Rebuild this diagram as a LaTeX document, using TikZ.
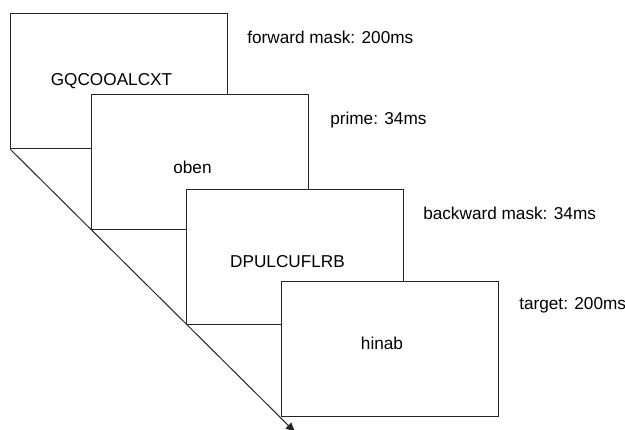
\documentclass[tikz,border=0pt]{standalone}
\usepackage{fontspec}
\setmainfont{Liberation Sans}
\usetikzlibrary{arrows.meta}
\begin{document}
\begin{tikzpicture}[x=0.75pt,y=-0.75pt,
  screen/.style={draw=black!85,line width=0.75pt,fill=white,rectangle,
    minimum width=217*0.75pt,minimum height=135*0.75pt,inner sep=0pt,anchor=north west},
  stim/.style={font=\fontsize{12.9pt}{15pt}\selectfont,inner sep=0pt},
  dur/.style={font=\fontsize{12.9pt}{15pt}\selectfont,inner sep=0pt,anchor=west}]
\useasboundingbox (0,0) rectangle (625,429);
\clip (0,0) rectangle (625,429);

% time axis through the lower-left corners of the screens
\coordinate (tend) at (296,433);

% stacked display screens
\node[screen] (s1) at (10,13) {};
\node[screen] (s2) at (91,94) {};
\node[screen] (s3) at (186,189) {};
\node[screen] (s4) at (281,281) {};

\draw[black!85,line width=0.75pt,-{Latex[length=8pt,width=6.5pt]}] (s1.south west) -- (tend);

% stimuli shown on each screen
\node[stim] (t1) at (111.5,81) {GQCOOALCXT};
\node[stim] (t2) at (192.5,167) {oben};
\node[stim] (t3) at (287.5,262) {DPULCUFLRB};
\node[stim] (t4) at (382,343) {hinab};

% durations
\node[dur] (d1) at (247,37) {forward mask: 200ms};
\node[dur] (d2) at (330,120) {prime: 34ms};
\node[dur] (d3) at (423,213) {backward mask: 34ms};
\node[dur] (d4) at (519,305) {target: 200ms};
\end{tikzpicture}
\end{document}
